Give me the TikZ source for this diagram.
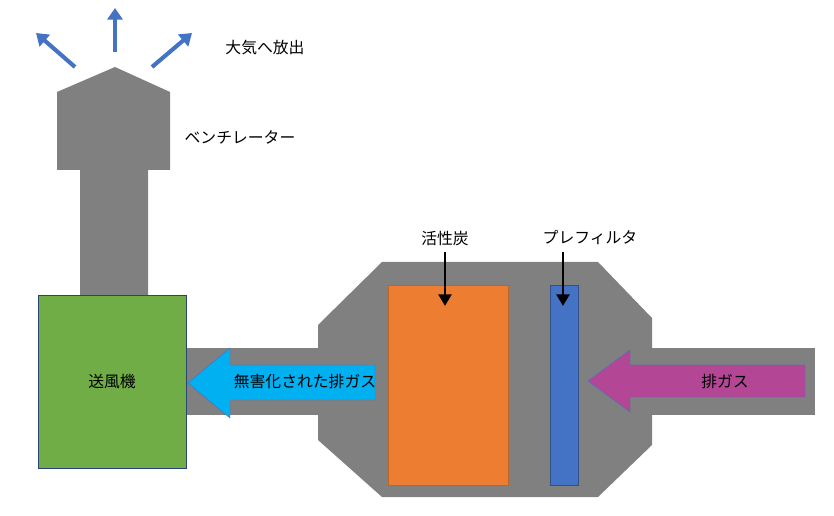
\documentclass[tikz,border=0pt]{standalone}
\usepackage{fontspec}
\newfontfamily\jp{Noto Sans CJK JP}
\usetikzlibrary{arrows.meta}
\definecolor{duct}{RGB}{128,128,128}
\definecolor{fan}{RGB}{112,173,71}
\definecolor{carbon}{RGB}{237,125,49}
\definecolor{filt}{RGB}{68,114,196}
\definecolor{clean}{RGB}{0,176,240}
\definecolor{dirty}{RGB}{180,70,150}
\tikzset{
  lbl/.style={font=\jp\fontsize{13.5}{15}\selectfont},
  outflow/.style={draw=filt,line width=3.5pt,-{Triangle[length=10pt,width=13pt]}},
  feed/.style={draw=black,line width=2.5pt,-{Triangle[length=10pt,width=11pt]}}
}
\begin{document}
\begin{tikzpicture}[x=0.03cm,y=-0.03cm]
\useasboundingbox (0,0) rectangle (834,516);
% ventilator
\fill[duct] (57,92) -- (115,67) -- (170,92) -- (170,170) -- (148,170) -- (148,300)
  -- (80,300) -- (80,170) -- (57,170) -- cycle;
\coordinate (v1) at (75,67); \coordinate (v2) at (115,52); \coordinate (v3) at (152,67);
\draw[outflow] (v1) -- (36,33);
\draw[outflow] (v2) -- (115,8);
\draw[outflow] (v3) -- (192,33);
\node[lbl] (air) at (265,48) {大気へ放出};
\node[lbl] (vent) at (240,137) {ベンチレーター};
% ducts and housing
\fill[duct] (180,348) rectangle (325,415);
\fill[duct] (645,348) rectangle (815,415);
\fill[duct] (318,325) -- (382,262) -- (598,262) -- (652,318) -- (652,445)
  -- (598,497) -- (382,497) -- (318,440) -- cycle;
% fan
\node[draw=filt!60!black,fill=fan,minimum width=148*0.03cm,minimum height=173*0.03cm,
  inner sep=0pt,lbl] (blower) at (112,381.5) {送風機};
% carbon and filter
\fill[carbon,draw=carbon!80!black] (388,285) rectangle (508,485);
\fill[filt,draw=filt!70!black] (550,285) rectangle (578,485);
\node[lbl] (ac) at (445,238) {活性炭};
\node[lbl] (pf) at (590,238) {プレフィルタ};
\draw[feed] (445,252) -- (445,306);
\draw[feed] (563,252) -- (563,306);
% flow arrows
\fill[clean,draw=filt] (188,383) -- (230,348) -- (230,365) -- (375,365) -- (375,400)
  -- (230,400) -- (230,418) -- cycle;
\node[lbl] (cg) at (305,382) {無害化された排ガス};
\fill[dirty,draw=filt] (588,381) -- (630,350) -- (630,365) -- (805,365) -- (805,397)
  -- (630,397) -- (630,412) -- cycle;
\node[lbl] (dg) at (725,381) {排ガス};
\end{tikzpicture}
\end{document}
